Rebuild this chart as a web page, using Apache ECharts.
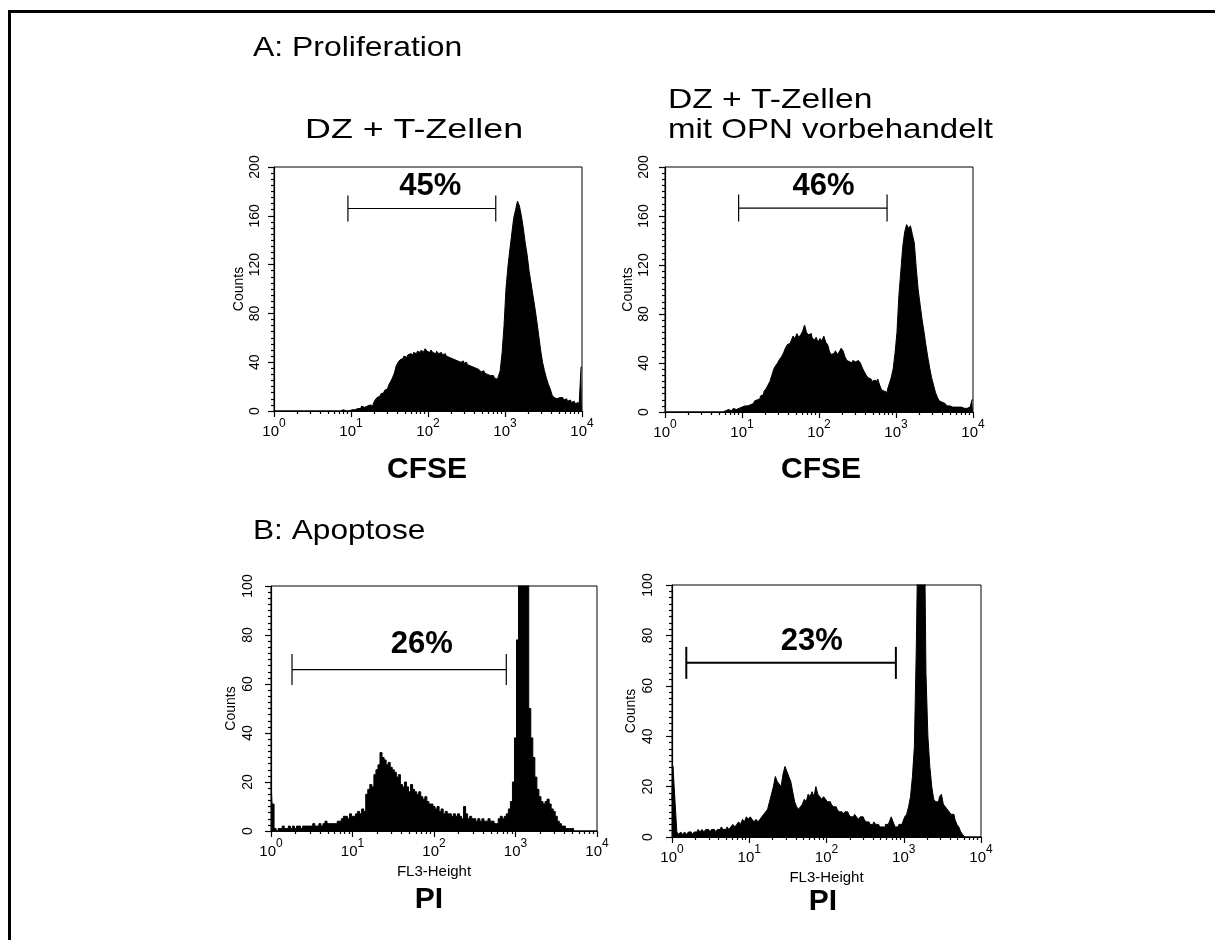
<!DOCTYPE html>
<html><head><meta charset="utf-8">
<script src="https://cdn.jsdelivr.net/npm/echarts@6/dist/echarts.min.js"></script>
<style>html,body{margin:0;padding:0;background:#fff}#c{width:1215px;height:940px}</style>
</head><body><div id="c"></div>
<script>
// ---- data (x in log10 units: one bin = binStep decade) ----
const binStep = 0.025;
const decades = [0, 1, 2, 3, 4];
const xTickLabels = ['{b|10}{s|0}', '{b|10}{s|1}', '{b|10}{s|2}', '{b|10}{s|3}', '{b|10}{s|4}'];

const countsA1 = [
0,0,0,0,0,0,0,0,0,0, 0,0,0,0,0,0,0,0,0,0, 0,0,0,0,0,0,0,0,0,0, 0,0,0,0,0,0,
1,0,1,0,1,0,1,2,3,2,
4,3,4,3,5,4,6,9,11,12,
14,15,17,18,21,24,27,31,37,40,
42,43,45,44,46,47,46,48,47,49,
48,50,48,51,49,48,50,48,47,49,
47,48,46,47,45,44,43,44,42,41,
42,40,41,39,40,38,37,36,37,35,
34,33,32,33,31,30,29,28,29,27,
26,28,33,48,70,100,118,132,145,158,
165,172,168,160,150,138,128,115,105,95,
85,74,62,50,40,33,27,22,18,13,
11,10,11,10,11,9,10,8,9,7,
8,6,7,5,36];

const countsA2 = [
0,0,0,0,0,0,0,0,0,0, 0,0,0,0,0,0,0,0,0,0, 0,0,0,0,0,0,0,0,0,
1,0,1,1,2,1,2,3,2,3,2,
4,5,6,5,6,6,7,9,10,11,
13,14,17,19,22,25,30,35,38,40,
43,45,48,52,55,56,58,62,60,64,
61,63,66,71,65,63,64,60,59,61,
57,60,58,62,57,55,49,47,48,50,
47,49,52,50,45,42,41,40,42,41,
42,43,40,36,33,30,28,27,25,26,
25,27,22,18,17,16,18,23,28,35,
48,65,95,115,135,147,153,150,152,145,
138,118,100,88,76,66,55,45,36,28,
22,16,12,9,8,7,6,5,5,4,
5,4,4,3,4,3,4,3,4,3,
10];

const countsB1 = [
20,11,1,0,1,1,2,1,1,2,
1,2,1,2,2,1,2,2,2,2,
2,3,2,2,3,2,3,4,3,3,
3,3,3,4,4,5,6,6,5,7,
6,6,7,8,7,9,8,15,17,19,
18,23,25,27,32,30,29,27,28,26,
25,24,22,23,19,18,20,18,16,19,
17,16,15,16,14,13,14,12,11,11,
10,9,10,8,9,7,8,7,7,6,
7,6,7,6,5,10,7,5,6,5,
5,4,5,4,5,4,4,5,4,4,
3,3,5,6,5,6,7,9,12,20,
38,78,130,170,180,160,115,50,38,30,
22,17,14,12,11,12,13,11,9,8,
6,4,3,2,2,1,1,1,1,0,
0,0,0,0,0,0,0,0,0,0,0];

const countsB2 = [
15,28,15,2,1,2,1,2,1,2,
2,1,2,2,3,2,3,2,3,3,
2,3,3,2,3,3,4,3,3,4,
3,4,5,4,5,6,5,7,6,8,
7,8,7,6,7,6,7,8,9,10,
11,14,17,20,24,22,21,20,25,28,
26,24,22,18,14,12,11,12,13,15,
14,17,16,18,16,20,17,16,15,16,
15,14,14,13,12,12,11,10,10,9,
10,10,9,8,8,9,8,7,8,8,
7,6,6,5,5,6,5,5,4,4,
4,5,5,6,8,6,4,4,5,5,
6,8,9,12,16,24,36,75,130,170,
175,140,65,40,28,20,15,14,14,16,
17,13,12,11,10,9,9,7,5,4,
2,1,0,0,0,0,0,0,0,0,0];

// gates: [start (log10), end (log10), counts level, label x (log10)]
const gateA1 = [0.96, 2.88, 166, 2.03];
const gateA2 = [0.956, 2.884, 166.5, 2.06];
const gateB1 = [0.258, 2.887, 65.9, 1.85];
const gateB2 = [0.185, 2.898, 69.1, 1.81];
const gateLabels = ['45%', '46%', '26%', '23%'];

const yMaxA = 200, yStepA = 40;
const yMaxB = 100, yStepB = 20;

const titleA = 'A: Proliferation';
const titleB = 'B: Apoptose';
const condLeft = 'DZ + T-Zellen';
const condRight1 = 'DZ + T-Zellen';
const condRight2 = 'mit OPN vorbehandelt';
const markerA = 'CFSE';
const markerB = 'PI';
const xNameB = 'FL3-Height';
const yName = 'Counts';

// ---- layout ----
const FONT = '"Liberation Sans", Arial, sans-serif';
const minorTickVals = [];
for (let d = 0; d < 4; d++) for (let k = 2; k <= 9; k++) minorTickVals.push(d + Math.log10(k));

const panels = [
  {counts: countsA1, gate: gateA1, yMax: yMaxA, yStep: yStepA, grid: {left: 274, top: 167, width: 308, height: 244}, xName: '', yGap: 28, yMargin: 12, gateH: 13, gateW: 1.2, labelDy: -22},
  {counts: countsA2, gate: gateA2, yMax: yMaxA, yStep: yStepA, grid: {left: 665, top: 167, width: 308, height: 245}, xName: '', yGap: 30, yMargin: 14, gateH: 13.5, gateW: 1.2, labelDy: -22},
  {counts: countsB1, gate: gateB1, yMax: yMaxB, yStep: yStepB, grid: {left: 271, top: 586, width: 326, height: 245}, xName: xNameB, yGap: 33, yMargin: 16, gateH: 15.5, gateW: 1.2, labelDy: -25},
  {counts: countsB2, gate: gateB2, yMax: yMaxB, yStep: yStepB, grid: {left: 672, top: 585, width: 309, height: 252}, xName: xNameB, yGap: 34, yMargin: 17, gateH: 16, gateW: 2, labelDy: -21}
];

const axisLineStyle = {color: '#000', width: 1.2};
const grids = [], xAxes = [], yAxes = [], series = [];
panels.forEach((p, i) => {
  grids.push(Object.assign({show: true, borderColor: '#000', borderWidth: 1, backgroundColor: 'transparent'}, p.grid));
  xAxes.push({
    type: 'value', gridIndex: i, min: 0, max: 4, position: 'bottom',
    axisLine: {show: true, onZero: false, lineStyle: axisLineStyle},
    axisTick: {show: true, customValues: decades, length: 6, lineStyle: axisLineStyle},
    axisLabel: {customValues: decades, color: '#000', margin: 7, fontFamily: FONT,
      formatter: v => xTickLabels[decades.indexOf(Math.round(v))],
      rich: {b: {fontSize: 15, fontFamily: FONT, color: '#000', lineHeight: 21, verticalAlign: 'bottom'},
             s: {fontSize: 12, fontFamily: FONT, color: '#000', lineHeight: 12, verticalAlign: 'top'}}},
    splitLine: {show: false},
    name: p.xName, nameLocation: 'middle', nameGap: 33,
    nameTextStyle: {fontSize: 15, color: '#000', fontFamily: FONT}
  });
  xAxes.push({
    type: 'value', gridIndex: i, min: 0, max: 4, position: 'bottom',
    axisLine: {show: false},
    axisTick: {show: true, customValues: minorTickVals, length: 3, lineStyle: axisLineStyle},
    axisLabel: {show: false}, splitLine: {show: false}
  });
  yAxes.push({
    type: 'value', gridIndex: i, min: 0, max: p.yMax, interval: p.yStep,
    axisLine: {show: true, onZero: false, lineStyle: axisLineStyle},
    axisTick: {show: true, length: 6, lineStyle: axisLineStyle},
    minorTick: {show: true, splitNumber: 8, length: 3, lineStyle: axisLineStyle},
    axisLabel: {rotate: 90, fontSize: 14, color: '#000', margin: p.yMargin, fontFamily: FONT},
    splitLine: {show: false}, minorSplitLine: {show: false},
    name: yName, nameLocation: 'middle', nameRotate: 90, nameGap: p.yGap,
    nameTextStyle: {fontSize: 14, color: '#000', fontFamily: FONT}
  });
  series.push({
    type: 'line', xAxisIndex: 2 * i, yAxisIndex: i,
    data: p.counts.map((c, k) => [k * binStep, c]),
    step: 'middle', symbol: 'none', clip: true, silent: true,
    lineStyle: {color: '#000', width: 1}, areaStyle: {color: '#000', opacity: 1}
  });
  series.push({
    type: 'custom', xAxisIndex: 2 * i, yAxisIndex: i, clip: false, silent: true,
    data: [p.gate],
    encode: {x: [0, 1, 3], y: 2},
    renderItem: (params, api) => {
      const a = api.coord([api.value(0), api.value(2)]);
      const b = api.coord([api.value(1), api.value(2)]);
      const t = api.coord([api.value(3), api.value(2)]);
      const st = {stroke: '#000', lineWidth: p.gateW};
      return {type: 'group', children: [
        {type: 'line', shape: {x1: a[0], y1: a[1], x2: b[0], y2: b[1]}, style: st},
        {type: 'line', shape: {x1: a[0], y1: a[1] - p.gateH, x2: a[0], y2: a[1] + p.gateH}, style: st},
        {type: 'line', shape: {x1: b[0], y1: b[1] - p.gateH, x2: b[0], y2: b[1] + p.gateH}, style: st},
        {type: 'text', style: {text: gateLabels[i], x: t[0], y: t[1] + p.labelDy, align: 'center', verticalAlign: 'middle',
          fontSize: 31, fontWeight: 'bold', fontFamily: FONT, fill: '#000'}}
      ]};
    }
  });
});

function txt(text, x, y, size, bold, align, sx) {
  return {type: 'text', x: x, y: y, scaleX: sx || 1, silent: true,
    style: {text: text, fontSize: size, fontWeight: bold ? 'bold' : 'normal', fontFamily: FONT, fill: '#000',
      align: align || 'left', verticalAlign: 'middle'}};
}

const graphic = [
  {type: 'rect', shape: {x: 8, y: 10, width: 1215, height: 3}, style: {fill: '#000'}, silent: true},
  {type: 'rect', shape: {x: 8, y: 10, width: 3, height: 940}, style: {fill: '#000'}, silent: true},
  txt(titleA, 253, 48, 28, false, 'left', 1.14),
  txt(condLeft, 305, 130, 28, false, 'left', 1.28),
  txt(condRight1, 668, 100, 28, false, 'left', 1.2),
  txt(condRight2, 668, 130, 28, false, 'left', 1.18),
  txt(titleB, 253, 531, 28, false, 'left', 1.13),
  txt(markerA, 427, 470, 30, true, 'center'),
  txt(markerA, 821, 470, 30, true, 'center'),
  txt(markerB, 429, 900, 30, true, 'center'),
  txt(markerB, 823, 902, 30, true, 'center')
];

const chart = echarts.init(document.getElementById('c'), null, {renderer: 'canvas'});
chart.setOption({
  animation: false,
  backgroundColor: '#fff',
  grid: grids, xAxis: xAxes, yAxis: yAxes, series: series, graphic: graphic
});
</script></body></html>
